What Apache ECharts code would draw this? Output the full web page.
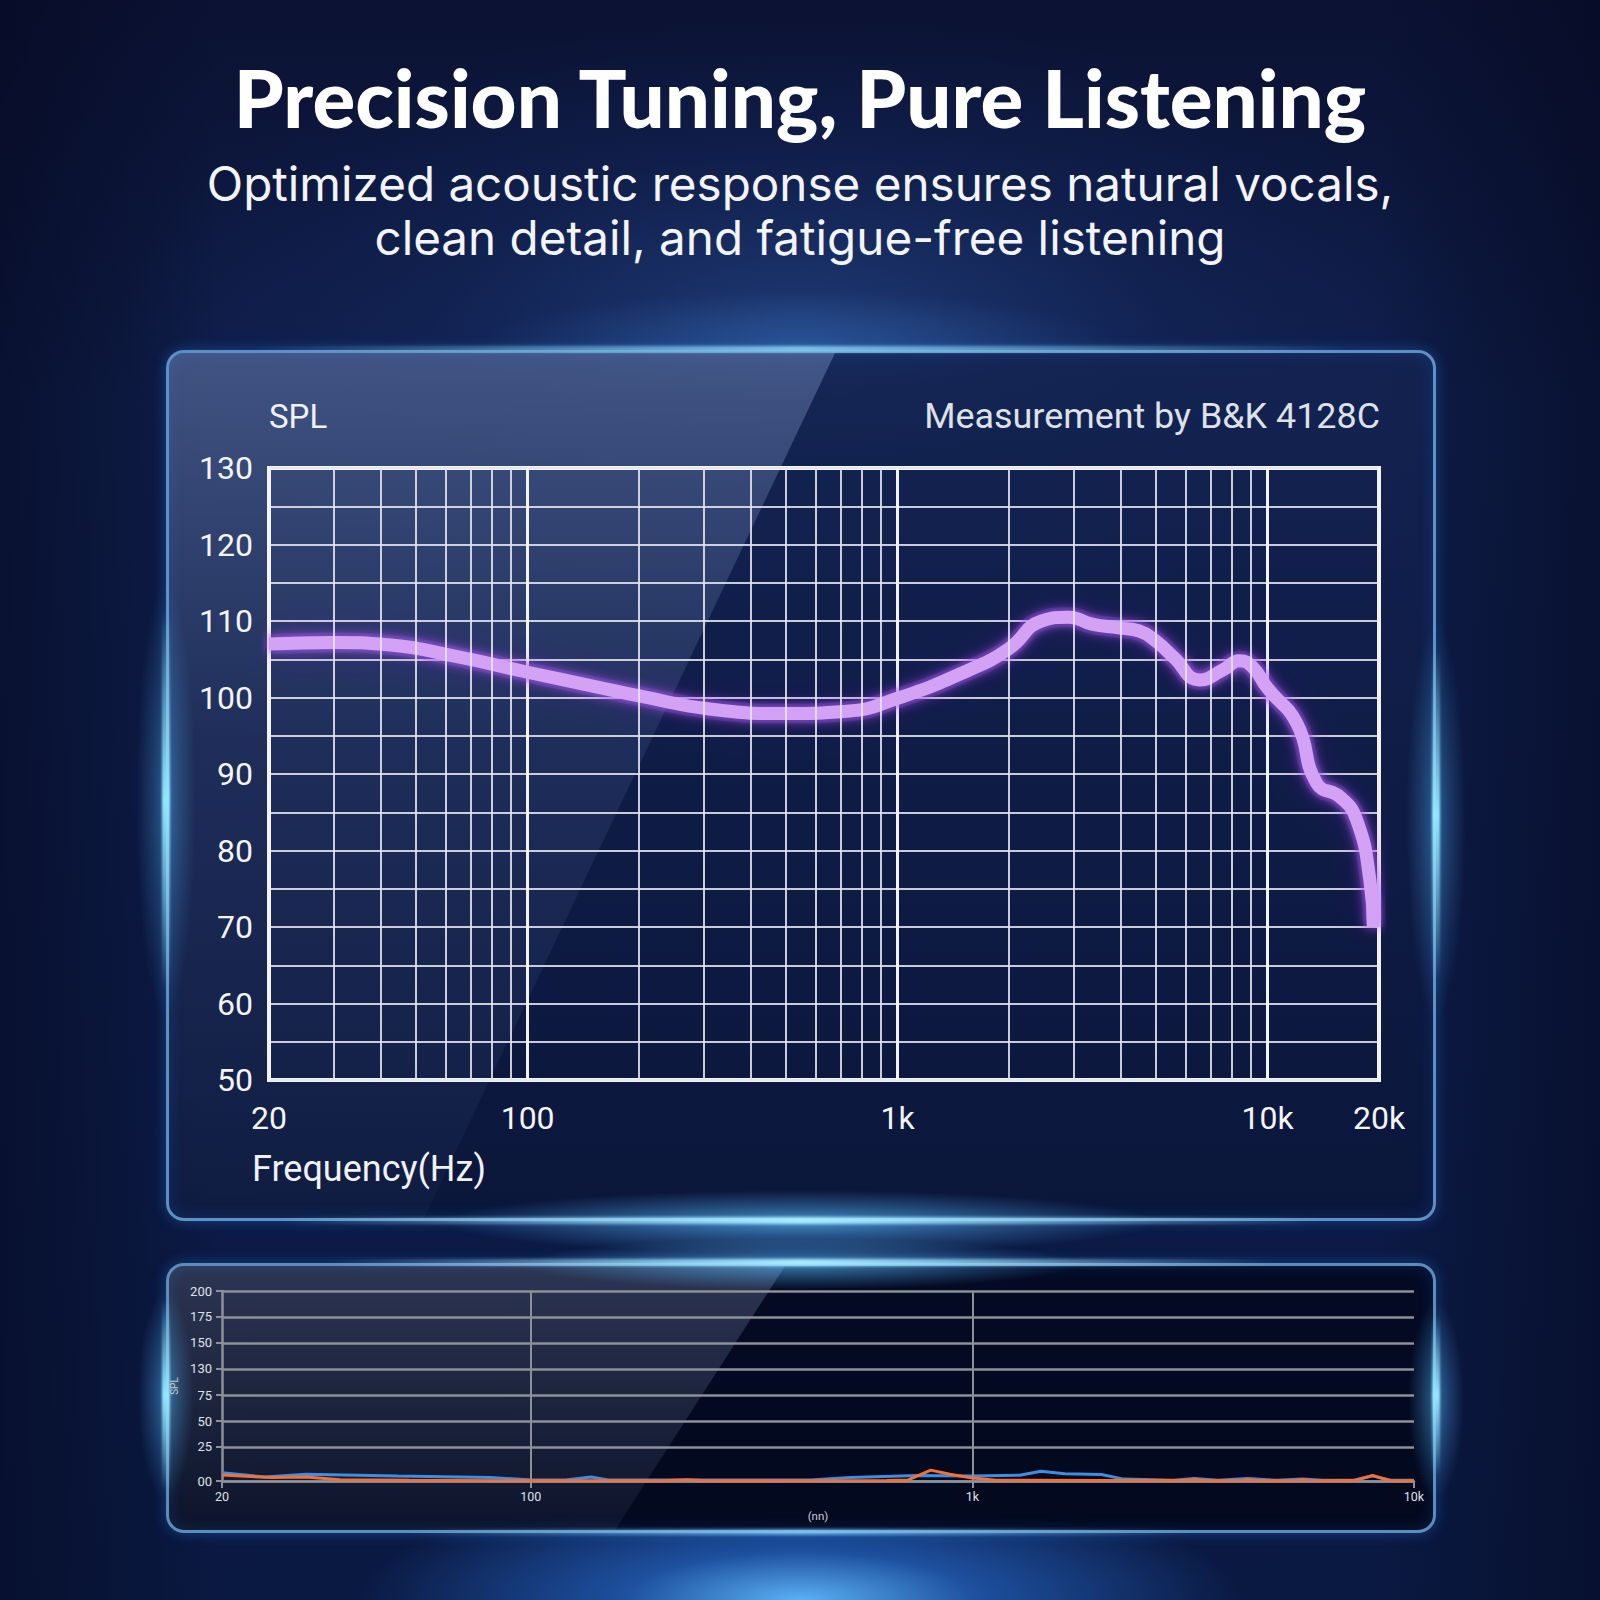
<!DOCTYPE html>
<html>
<head>
<meta charset="utf-8">
<script src="https://cdn.jsdelivr.net/npm/echarts@6/dist/echarts.min.js"></script>
<style>
html,body{margin:0;padding:0;width:1600px;height:1600px;overflow:hidden;}
body{position:relative;
background:
 radial-gradient(ellipse 440px 120px at 800px 1600px, rgba(95,185,255,0.95), rgba(45,125,235,0.55) 40%, rgba(20,60,150,0) 100%),
 radial-gradient(ellipse 680px 300px at 800px 320px, rgba(50,95,175,0.42), rgba(30,65,140,0.18) 55%, rgba(0,0,0,0) 100%),
 linear-gradient(90deg, rgba(4,8,30,0.55), rgba(0,0,0,0) 14%, rgba(0,0,0,0) 86%, rgba(4,8,30,0.55)),
 linear-gradient(180deg, #0b1233 0%, #0f1d49 25%, #0d1b47 60%, #0a1942 100%);}
.abs{position:absolute;}
.panel{position:absolute;left:166px;width:1270px;border-radius:18px;box-sizing:border-box;border:3px solid rgba(118,178,232,0.78);overflow:hidden;
 box-shadow:0 0 14px rgba(40,140,255,0.35), inset 0 0 16px rgba(40,120,230,0.2);}
#p1{top:350px;height:871px;background:linear-gradient(180deg, rgba(20,36,82,0.85), rgba(11,22,58,0.92));}
#p2{top:1263px;height:270px;background:linear-gradient(180deg, rgba(4,10,34,0.95), rgba(3,8,28,0.95));}
.glare{position:absolute;left:0;top:0;right:0;bottom:0;}
#g1{clip-path:polygon(0 0, 666px 0, 255px 100%, 0 100%);background:linear-gradient(180deg, rgba(160,185,235,0.32), rgba(140,165,225,0.12) 45%, rgba(130,160,220,0.04));}
#g2{clip-path:polygon(0 0, 616px 0, 446px 100%, 0 100%);background:linear-gradient(180deg, rgba(160,175,215,0.26), rgba(140,160,205,0.07));}
#chart{position:absolute;left:0;top:0;width:1600px;height:1600px;z-index:5;}
</style>
</head>
<body>
<div class="abs" style="left:480px;top:290px;width:640px;height:110px;background:radial-gradient(ellipse at center, rgba(70,150,240,0.30), rgba(60,140,255,0) 70%);"></div>
<div id="p1" class="panel"><div id="g1" class="glare"></div></div>
<div id="p2" class="panel"><div id="g2" class="glare"></div></div>

<!-- edge glows -->
<div class="abs" style="left:250px;top:346px;width:1100px;height:6px;background:linear-gradient(90deg,rgba(90,190,255,0),rgba(140,215,245,0.85) 50%,rgba(90,190,255,0));filter:blur(1.5px);"></div>
<div class="abs" style="left:136px;top:580px;width:60px;height:440px;background:radial-gradient(ellipse at center, rgba(90,190,255,0.38), rgba(60,150,255,0) 70%);"></div>
<div class="abs" style="left:162px;top:610px;width:8px;height:380px;background:linear-gradient(180deg,rgba(110,210,255,0),rgba(150,230,255,1) 50%,rgba(110,210,255,0));filter:blur(1px);"></div>
<div class="abs" style="left:1406px;top:620px;width:60px;height:400px;background:radial-gradient(ellipse at center, rgba(90,190,255,0.38), rgba(60,150,255,0) 70%);"></div>
<div class="abs" style="left:1432px;top:650px;width:8px;height:330px;background:linear-gradient(180deg,rgba(110,210,255,0),rgba(150,230,255,1) 50%,rgba(110,210,255,0));filter:blur(1px);"></div>
<div class="abs" style="left:440px;top:1190px;width:720px;height:64px;background:radial-gradient(ellipse at center, rgba(90,190,255,0.65), rgba(60,150,255,0) 70%);"></div>
<div class="abs" style="left:280px;top:1217px;width:1040px;height:7px;background:linear-gradient(90deg,rgba(90,190,255,0),rgba(170,235,255,1) 50%,rgba(90,190,255,0));filter:blur(1.5px);"></div>
<div class="abs" style="left:520px;top:1238px;width:560px;height:52px;background:radial-gradient(ellipse at center, rgba(90,190,255,0.6), rgba(60,150,255,0) 70%);"></div>
<div class="abs" style="left:330px;top:1259px;width:940px;height:7px;background:linear-gradient(90deg,rgba(90,190,255,0),rgba(170,235,255,1) 50%,rgba(90,190,255,0));filter:blur(1.5px);"></div>
<div class="abs" style="left:138px;top:1290px;width:56px;height:210px;background:radial-gradient(ellipse at center, rgba(90,190,255,0.45), rgba(60,150,255,0) 70%);"></div>
<div class="abs" style="left:162px;top:1300px;width:8px;height:190px;background:linear-gradient(180deg,rgba(110,210,255,0),rgba(150,230,255,1) 50%,rgba(110,210,255,0));filter:blur(1px);"></div>
<div class="abs" style="left:1408px;top:1300px;width:56px;height:200px;background:radial-gradient(ellipse at center, rgba(90,190,255,0.45), rgba(60,150,255,0) 70%);"></div>
<div class="abs" style="left:1432px;top:1315px;width:8px;height:160px;background:linear-gradient(180deg,rgba(110,210,255,0),rgba(150,230,255,1) 50%,rgba(110,210,255,0));filter:blur(1px);"></div>
<div class="abs" style="left:400px;top:1529px;width:800px;height:6px;background:linear-gradient(90deg,rgba(90,190,255,0),rgba(140,215,255,0.7) 50%,rgba(90,190,255,0));filter:blur(1.5px);"></div>

<div id="chart"></div>
<script>
// ---------- data ----------
const freqMain = [20,30,42,65,100,150,205,310,500,730,1000,1560,2000,2450,2900,3350,3960,4500,5010,5560,6560,7570,8400,9100,10000,12000,13570,15700,17400,18900,19300];
const splMain  = [107.0,107.2,106.9,105.3,103.3,101.5,100.1,98.5,97.9,98.2,99.9,103.6,106.4,110.0,110.5,109.6,109.1,108.7,107.3,105.3,102.3,103.6,104.8,104.0,101.2,96.6,88.8,87.0,84.0,76.1,70.0];
const xTickValuesMain = [20,100,1000,10000,20000];
const xTickLabelsMain = ['20','100','1k','10k','20k'];
const minorFreqMain = [30,40,50,60,70,80,90,200,300,400,500,600,700,800,900,2000,3000,4000,5000,6000,7000,8000,9000];

const freqBlue = [20,25,31,50,81,101,120,137,150,430,530,750,1000,1280,1430,1620,1960,2200,2850,3180,3600,4200,4900,5600,6200,7300,8060,8840,10000];
const splBlue  = [6.0,3.0,5.0,3.7,2.5,0.7,0.7,3.0,0.8,0.8,2.6,4.0,3.6,4.2,7.2,5.4,4.8,1.4,0.6,1.8,0.5,1.8,0.5,1.4,0.5,0.6,3.8,0.6,0.6];
const freqOrange = [20,26,31,37,53,85,200,226,250,640,716,805,890,990,1130,2110,3000,3180,3400,4050,4200,4450,5400,5600,5850,7330,8060,8840,10000];
const splOrange  = [4.4,2.5,3.0,1.0,0.5,0.2,0.2,0.9,0.2,0.3,0.8,8.0,5.0,2.4,0.5,0.3,0.3,1.0,0.2,0.2,0.9,0.2,0.2,0.9,0.2,0.3,4.0,0.2,0.2];
const xTickValues2 = [20,100,1000,10000];
const xTickLabels2 = ['20','100','1k','10k'];
const gridFreq2 = [100,1000];
const yTickLabels2 = ['00','25','50','75','130','150','175','200'];
const yTickValues2 = [0,25,44.1,63.2,82.4,101.5,120.6,139.7];

const titleText = 'Precision Tuning, Pure Listening';
const subLine1 = 'Optimized acoustic response ensures natural vocals,';
const subLine2 = 'clean detail, and fatigue-free listening';

// ---------- helpers ----------
const mctx = document.createElement('canvas').getContext('2d');
function fitSize(text, weight, family, target){
  mctx.font = weight + ' 100px ' + family;
  return 100 * target / mctx.measureText(text).width;
}
function lookup(vals, labels, v){
  for (let i=0;i<vals.length;i++){ if (Math.abs(vals[i]-v) <= Math.max(1e-6, vals[i]*1e-3)) return labels[i]; }
  return '';
}
const pairs = (xs, ys) => xs.map((x,i)=>[x, ys[i]]);

const TITLE_FONT = "Lato, 'Noto Sans', sans-serif";
const SUB_FONT = "Inter, 'Open Sans', sans-serif";
const LBL_FONT = "Roboto, 'DejaVu Sans', sans-serif";
const tSize = fitSize(titleText, '900', TITLE_FONT, 1135);
const sSize = fitSize(subLine1, '400', SUB_FONT, 1187);
const mSize = fitSize('Measurement by B&K 4128C', '400', LBL_FONT, 456);
const fSize = fitSize('Frequency(Hz)', '400', LBL_FONT, 234);
const GRID_C = 'rgba(226,229,237,0.88)';
const G2 = '#8c9099';

const chart = echarts.init(document.getElementById('chart'), null, {renderer:'svg', width:1600, height:1600});
const option = {
  backgroundColor: 'transparent',
  animation: false,
  title: [
    {text: titleText, left:'center', top: 97 - tSize/2, padding:0,
     textStyle:{color:'#ffffff', fontSize:tSize, fontWeight:900, fontFamily:TITLE_FONT}},
    {text: subLine1, left:'center', top: 183 - sSize/2, padding:0,
     textStyle:{color:'#f2f4f9', fontSize:sSize, fontWeight:400, fontFamily:SUB_FONT}},
    {text: subLine2, left:'center', top: 237 - sSize/2, padding:0,
     textStyle:{color:'#f2f4f9', fontSize:sSize, fontWeight:400, fontFamily:SUB_FONT}},
    {text: 'Measurement by B&K 4128C', right: 220, top: 416 - mSize/2, padding:0,
     textStyle:{color:'#dde1e8', fontSize:mSize, fontWeight:400, fontFamily:LBL_FONT}},
    {text: 'Frequency(Hz)', left: 252, top: 1169 - fSize/2, padding:0,
     textStyle:{color:'#eef1f6', fontSize:fSize, fontWeight:400, fontFamily:LBL_FONT}}
  ],
  grid: [
    {left:269, top:468, width:1110, height:612, show:true, borderColor:'#f3f4f7', borderWidth:4, backgroundColor:'transparent', containLabel:false, outerBoundsMode:'none'},
    {left:222, top:1291, width:1192, height:190, show:false, containLabel:false, outerBoundsMode:'none'}
  ],
  xAxis: [
    {type:'log', logBase:10, gridIndex:0, min:20, max:20000,
     axisLine:{show:false}, axisTick:{show:false},
     axisLabel:{formatter:v=>lookup(xTickValuesMain,xTickLabelsMain,v), color:'#f2f4f8', fontSize:32, fontFamily:LBL_FONT, margin:22, showMinLabel:true, showMaxLabel:true, hideOverlap:false},
     splitLine:{show:true, lineStyle:{color:'#f1f3f7', width:3}},
     minorTick:{show:false}, minorSplitLine:{show:false}},
    {type:'log', logBase:10, gridIndex:1, min:20, max:10000,
     axisLine:{show:true, lineStyle:{color:G2, width:2.5}},
     axisTick:{show:true, length:7, lineStyle:{color:G2, width:2}},
     axisLabel:{formatter:v=>lookup(xTickValues2,xTickLabels2,v), color:'#dfe2e8', fontSize:12.5, fontFamily:LBL_FONT, margin:9, showMinLabel:true, showMaxLabel:true, hideOverlap:false},
     splitLine:{show:false},
     name:'(nn)', nameLocation:'middle', nameGap:29, nameTextStyle:{color:'#c9ccd4', fontSize:11.5, fontFamily:LBL_FONT}}
  ],
  yAxis: [
    {type:'value', gridIndex:0, min:50, max:130, interval:10,
     axisLine:{show:false}, axisTick:{show:false},
     axisLabel:{color:'#f2f4f8', fontSize:32, fontFamily:LBL_FONT, margin:16},
     splitLine:{show:true, lineStyle:{color:GRID_C, width:2}},
     minorTick:{show:false, splitNumber:2},
     minorSplitLine:{show:true, lineStyle:{color:GRID_C, width:2}},
     name:'SPL', nameLocation:'end', nameGap:35,
     nameTextStyle:{align:'left', color:'#eef1f6', fontSize:33, fontFamily:LBL_FONT}},
    {type:'value', gridIndex:1, min:0, max:yTickValues2[yTickValues2.length-1],
     axisLine:{show:true, lineStyle:{color:G2, width:2.5}},
     axisTick:{show:true, length:6, customValues:yTickValues2, lineStyle:{color:G2, width:2}},
     axisLabel:{customValues:yTickValues2, formatter:v=>lookup(yTickValues2,yTickLabels2,v), color:'#dfe2e8', fontSize:13, fontFamily:LBL_FONT, margin:10},
     splitLine:{show:true, lineStyle:{color:G2, width:2.5}},
     name:'SPL', nameLocation:'middle', nameRotate:90, nameGap:42,
     nameTextStyle:{color:'#c9ccd4', fontSize:10, fontFamily:LBL_FONT}}
  ],
  series: [
    {type:'line', xAxisIndex:0, yAxisIndex:0, data:pairs(freqMain, splMain), showSymbol:false, silent:true,
     lineStyle:{opacity:0}, z:1,
     markLine:{silent:true, symbol:['none','none'], label:{show:false}, animation:false,
       lineStyle:{color:GRID_C, width:2, type:'solid'},
       emphasis:{disabled:true},
       data:minorFreqMain.map(f=>({xAxis:f}))}},
    {type:'line', xAxisIndex:0, yAxisIndex:0, data:pairs(freqMain, splMain), showSymbol:false, silent:true,
     smooth:0.5, z:3,
     lineStyle:{width:20, color:'rgba(160,70,240,0.18)', shadowBlur:32, shadowColor:'rgba(150,50,250,0.85)', cap:'butt'}},
    {type:'line', xAxisIndex:0, yAxisIndex:0, data:pairs(freqMain, splMain), showSymbol:false, silent:true,
     smooth:0.5, z:4,
     lineStyle:{width:13, color:'#d3a2f5', shadowBlur:12, shadowColor:'rgba(185,95,255,0.9)', cap:'butt'}},
    {type:'line', xAxisIndex:1, yAxisIndex:1, data:pairs(freqBlue, splBlue), showSymbol:false, silent:true,
     lineStyle:{opacity:0}, z:1,
     markLine:{silent:true, symbol:['none','none'], label:{show:false}, animation:false,
       lineStyle:{color:G2, width:2, type:'solid'},
       emphasis:{disabled:true},
       data:gridFreq2.map(f=>({xAxis:f}))}},
    {type:'line', xAxisIndex:1, yAxisIndex:1, data:pairs(freqBlue, splBlue), showSymbol:false, silent:true, z:4,
     lineStyle:{width:3, color:'#3d8fe2'}},
    {type:'line', xAxisIndex:1, yAxisIndex:1, data:pairs(freqOrange, splOrange), showSymbol:false, silent:true, z:5,
     lineStyle:{width:3, color:'#f2703a'}}
  ]
};
chart.setOption(option);
</script>
</body>
</html>
